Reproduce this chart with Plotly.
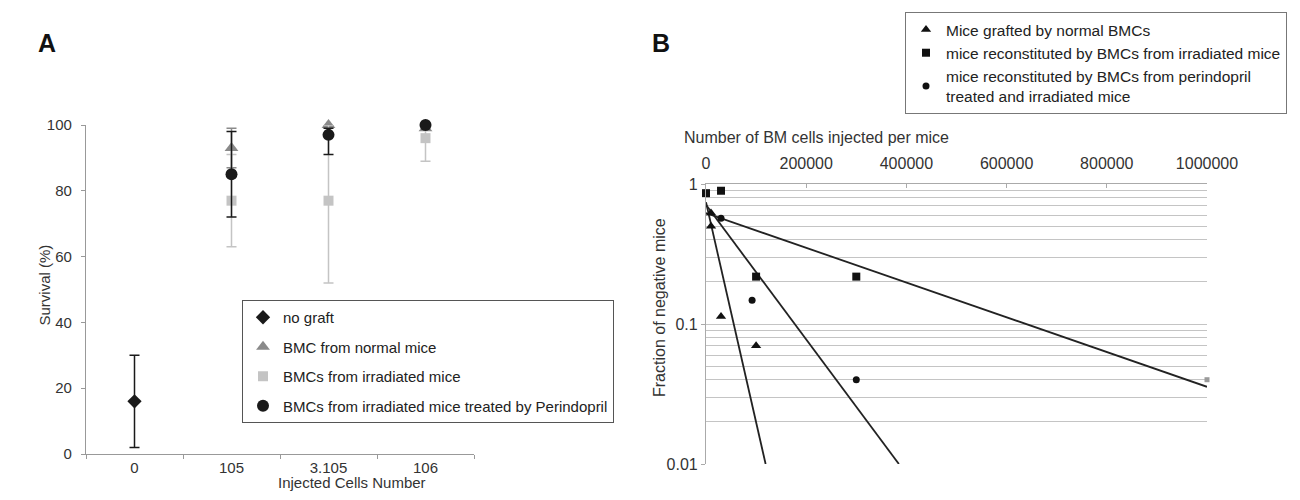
import plotly.graph_objects as go

W, H = 1300, 500
FONT = "Liberation Sans, Arial, sans-serif"

# ---- panel A: survival vs injected cells ----
cell_labels = ["0", "105", "3.105", "106"]
grafted_x = ["105", "3.105", "106"]

nograft_x = ["0"]
nograft_y = [16]
nograft_err = [14]

normal_y = [93, 100, 99]
normal_err_plus = [6, 0, 0]
normal_err_minus = [6, 0, 0]

irrad_y = [77, 77, 96]
irrad_err_plus = [14, 23, 4]
irrad_err_minus = [14, 25, 7]

perin_y = [85, 97, 100]
perin_err_plus = [13, 2, 0]
perin_err_minus = [13, 6, 0]

# ---- panel B: fraction of negative mice ----
tri_x = [10000, 10000, 30000, 100000]
tri_y = [0.62, 0.50, 0.113, 0.07]
sq_x = [0, 30000, 100000, 300000]
sq_y = [0.86, 0.895, 0.218, 0.218]
sq_last_x = [1000000]   # drawn faint grey in the original
sq_last_y = [0.04]
circ_x = [30000, 92000, 300000]
circ_y = [0.57, 0.148, 0.04]

# trendline end points
fit_tri_x = [0, 119000]
fit_tri_y = [0.74, 0.01]
fit_circ_x = [0, 385000]
fit_circ_y = [0.71, 0.01]
fit_sq_x = [0, 1000000]
fit_sq_y = [0.62, 0.0356]

b_xticks = [0, 200000, 400000, 600000, 800000, 1000000]
b_yticks = [0.01, 0.1, 1]
b_yminor = [0.02, 0.03, 0.04, 0.05, 0.06, 0.07, 0.08, 0.09,
            0.2, 0.3, 0.4, 0.5, 0.6, 0.7, 0.8, 0.9]

# the page body has an 8px margin, so pixel positions are shifted by it
OFF = 8


def px(x):
    return (x - OFF) / W


def py(y):
    return 1 - (y - OFF) / H


BLACK = "#1a1a1a"
GRAY = "#8a8a8a"
LIGHT = "#c4c4c4"

fig = go.Figure()

# panel A traces
fig.add_trace(go.Scatter(
    x=nograft_x, y=nograft_y, mode="markers", name="no graft",
    marker=dict(symbol="diamond", size=11, color=BLACK),
    error_y=dict(type="data", array=nograft_err, color=BLACK, thickness=1.5, width=5),
    legendgroup="a1", xaxis="x", yaxis="y", cliponaxis=False,
))
fig.add_trace(go.Scatter(
    x=grafted_x, y=normal_y, mode="markers", name="BMC from normal mice",
    marker=dict(symbol="triangle-up", size=12, color=GRAY),
    error_y=dict(type="data", array=normal_err_plus, arrayminus=normal_err_minus,
                 color=GRAY, thickness=1.5, width=5),
    legendgroup="a2", xaxis="x", yaxis="y", cliponaxis=False,
))
fig.add_trace(go.Scatter(
    x=grafted_x, y=irrad_y, mode="markers", name="BMCs from irradiated mice",
    marker=dict(symbol="square", size=10, color=LIGHT),
    error_y=dict(type="data", array=irrad_err_plus, arrayminus=irrad_err_minus,
                 color=LIGHT, thickness=1.5, width=5),
    legendgroup="a3", xaxis="x", yaxis="y", cliponaxis=False,
))
fig.add_trace(go.Scatter(
    x=grafted_x, y=perin_y, mode="markers",
    name="BMCs from irradiated mice treated by Perindopril",
    marker=dict(symbol="circle", size=12, color=BLACK),
    error_y=dict(type="data", array=perin_err_plus, arrayminus=perin_err_minus,
                 color=BLACK, thickness=1.5, width=5),
    legendgroup="a4", xaxis="x", yaxis="y", cliponaxis=False,
))

# panel B trendlines
for fx, fy in [(fit_tri_x, fit_tri_y), (fit_circ_x, fit_circ_y), (fit_sq_x, fit_sq_y)]:
    fig.add_trace(go.Scatter(
        x=fx, y=fy, mode="lines", line=dict(color="#222222", width=1.8),
        showlegend=False, xaxis="x2", yaxis="y2", cliponaxis=True,
    ))

# panel B points
fig.add_trace(go.Scatter(
    x=tri_x, y=tri_y, mode="markers", name="Mice grafted by normal BMCs",
    marker=dict(symbol="triangle-up", size=9, color="#111111"),
    legend="legend2", legendgroup="b1", xaxis="x2", yaxis="y2", cliponaxis=False,
))
fig.add_trace(go.Scatter(
    x=sq_x, y=sq_y, mode="markers",
    name="mice reconstituted by BMCs from irradiated mice",
    marker=dict(symbol="square", size=8, color="#111111"),
    legend="legend2", legendgroup="b2", xaxis="x2", yaxis="y2", cliponaxis=False,
))
fig.add_trace(go.Scatter(
    x=sq_last_x, y=sq_last_y, mode="markers", showlegend=False,
    marker=dict(symbol="square", size=5, color="#9a9a9a"),
    xaxis="x2", yaxis="y2", cliponaxis=False,
))
fig.add_trace(go.Scatter(
    x=circ_x, y=circ_y, mode="markers",
    name="mice reconstituted by BMCs from perindopril<br>treated and irradiated mice",
    marker=dict(symbol="circle", size=7, color="#111111"),
    legend="legend2", legendgroup="b3", xaxis="x2", yaxis="y2", cliponaxis=False,
))

fig.update_layout(
    width=W, height=H,
    margin=dict(l=0, r=0, t=0, b=0, autoexpand=False),
    paper_bgcolor="white", plot_bgcolor="white",
    font=dict(family=FONT, size=15, color="#333333"),
    xaxis=dict(
        domain=[px(86), px(474)], type="category",
        categoryorder="array", categoryarray=cell_labels,
        range=[-0.5, 3.5], tickson="boundaries", ticks="outside", ticklen=4,
        tickcolor="#999999", showline=True, linecolor="#999999", linewidth=1.2,
        showgrid=False, zeroline=False, tickfont=dict(size=15),
    ),
    yaxis=dict(
        domain=[py(454), py(125)], range=[0, 100], tickvals=[0, 20, 40, 60, 80, 100],
        ticks="outside", ticklen=4, tickcolor="#999999", showline=True,
        linecolor="#999999", linewidth=1.2, showgrid=False, zeroline=False,
        tickfont=dict(size=15), ticklabelstandoff=6,
    ),
    xaxis2=dict(
        domain=[px(706), px(1207)], range=[0, 1000000], side="top", anchor="y2",
        tickvals=b_xticks, tickformat="d", ticks="inside", ticklen=4,
        tickcolor="#aaaaaa", showline=True, linecolor="#aaaaaa", linewidth=1.2,
        showgrid=False, zeroline=False, tickfont=dict(size=16),
        ticklabelstandoff=8,
    ),
    yaxis2=dict(
        domain=[py(464), py(184)], type="log", range=[-2, 0], anchor="x2",
        tickvals=b_yticks, ticktext=["0.01", "0.1", "1"], ticks="outside",
        ticklen=4, tickcolor="#aaaaaa", showline=True, linecolor="#aaaaaa",
        linewidth=1.2, showgrid=True, gridcolor="#c4c4c4", gridwidth=1.2,
        zeroline=False, tickfont=dict(size=16),
        minor=dict(tickvals=b_yminor, showgrid=True, gridcolor="#c4c4c4",
                   gridwidth=1.2, ticks=""),
    ),
    legend=dict(
        x=px(242), y=py(300), xanchor="left", yanchor="top",
        bordercolor="#555555", borderwidth=1, bgcolor="white",
        font=dict(size=15, color="#222222"), tracegroupgap=7,
        traceorder="grouped",
    ),
    legend2=dict(
        x=px(905), y=py(12), xanchor="left", yanchor="top",
        bordercolor="#777777", borderwidth=1, bgcolor="white",
        font=dict(size=15.5, color="#222222"), tracegroupgap=0,
        traceorder="normal",
    ),
    annotations=[
        dict(text="<b>A</b>", x=px(36), y=py(27), xref="paper", yref="paper",
             showarrow=False, font=dict(size=25, color="#111111")),
        dict(text="<b>B</b>", x=px(661), y=py(27), xref="paper", yref="paper",
             showarrow=False, font=dict(size=25, color="#111111")),
        dict(text="Survival (%)", x=px(33), y=py(285), xref="paper", yref="paper",
             textangle=-90, showarrow=False, font=dict(size=15)),
        dict(text="Injected Cells Number", x=px(276), y=py(493), xref="paper",
             yref="paper", showarrow=False, font=dict(size=15)),
        dict(text="Number of BM cells injected per mice", x=px(682), y=py(127),
             xref="paper", yref="paper", xanchor="left", showarrow=False,
             font=dict(size=16)),
        dict(text="Fraction of negative mice", x=px(659), y=py(308), xref="paper",
             yref="paper", textangle=-90, showarrow=False, font=dict(size=16)),
    ],
)

fig.write_html("out.html")
